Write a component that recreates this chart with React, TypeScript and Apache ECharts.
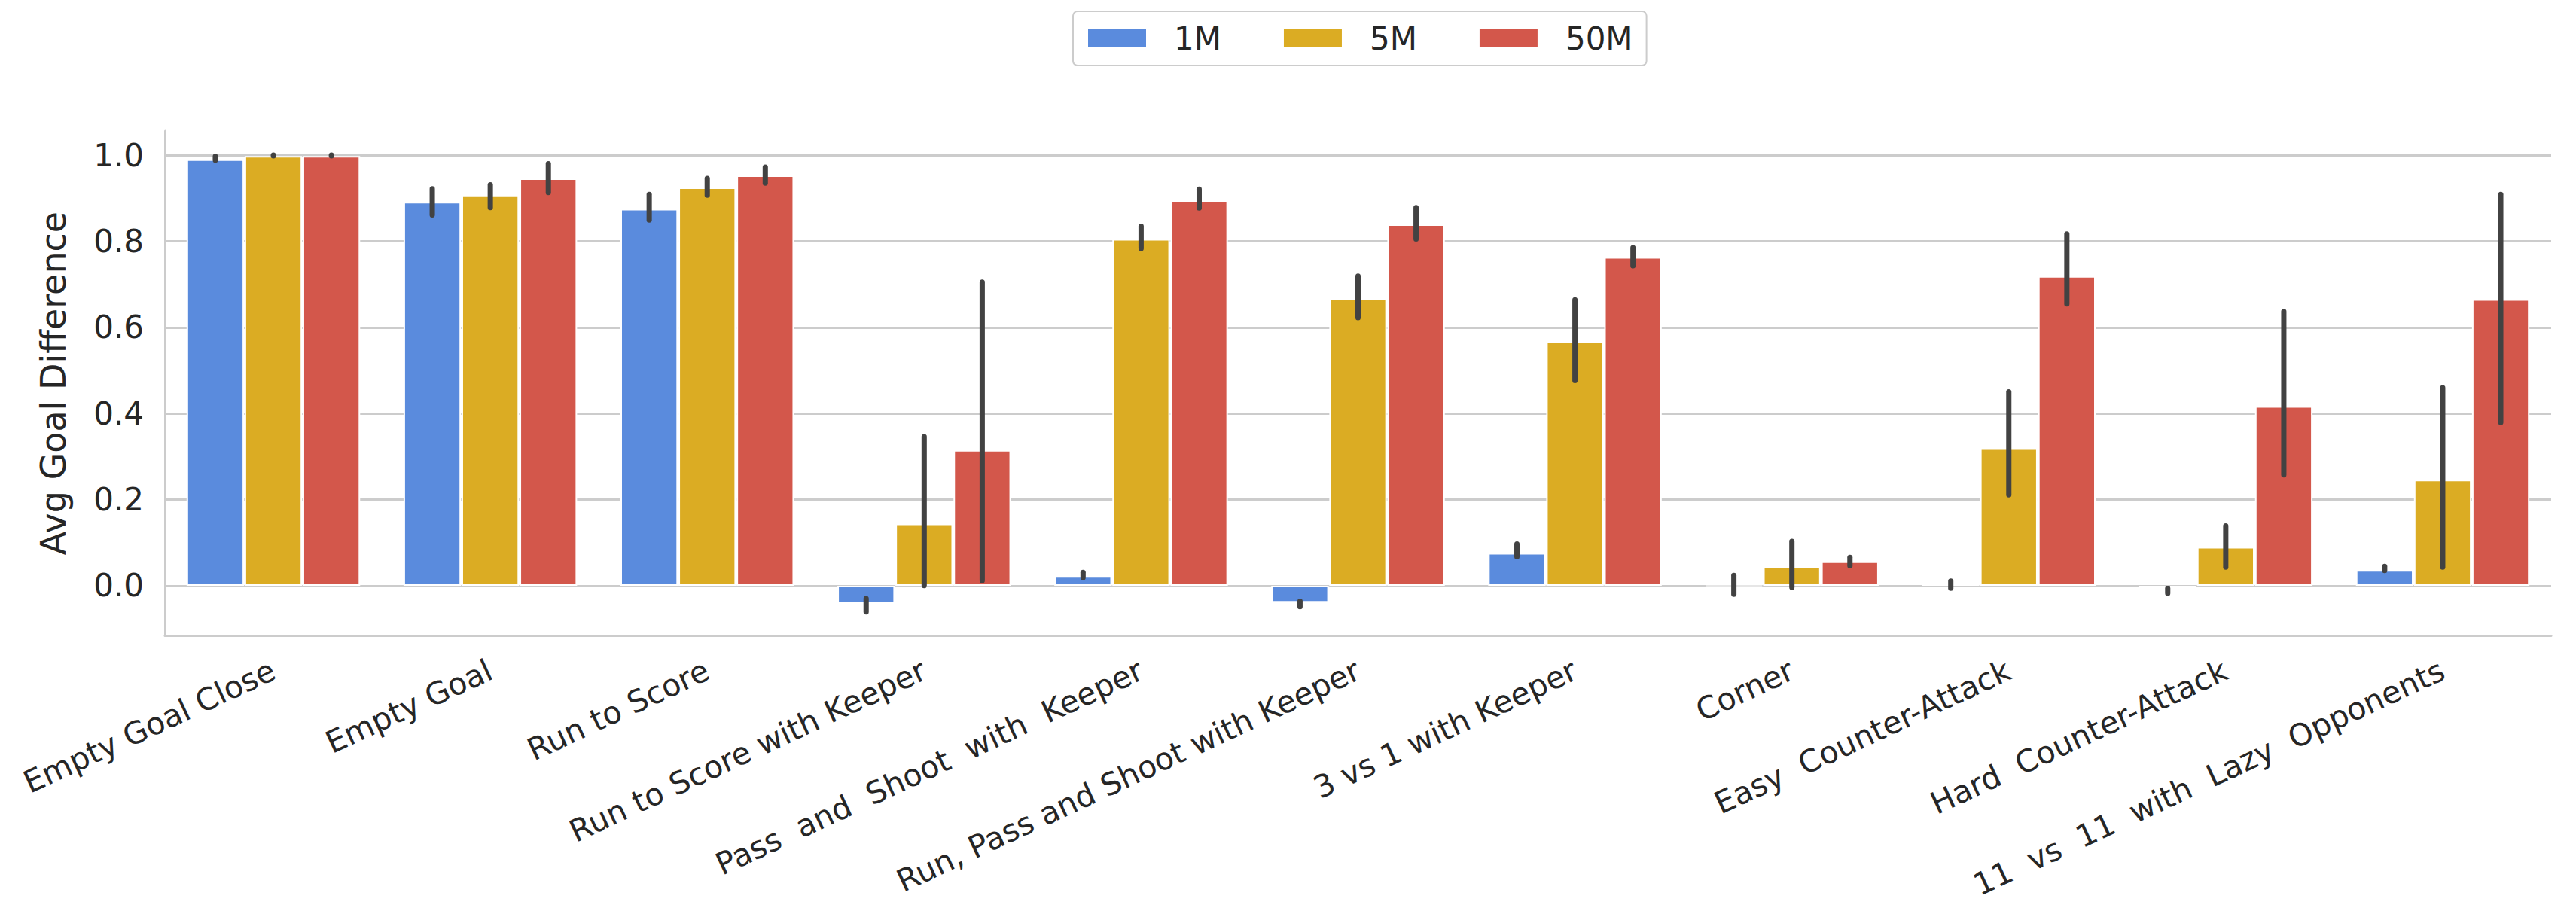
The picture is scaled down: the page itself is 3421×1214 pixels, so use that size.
import React, { useEffect, useRef } from "react";
import * as echarts from "echarts";

// Task categories along the x axis
const categories = [
  "Empty Goal Close",
  "Empty Goal",
  "Run to Score",
  "Run to Score with Keeper",
  "Pass  and  Shoot  with  Keeper",
  "Run, Pass and Shoot with Keeper",
  "3 vs 1 with Keeper",
  "Corner",
  "Easy  Counter-Attack",
  "Hard  Counter-Attack",
  "11  vs  11  with  Lazy  Opponents",
];

const seriesNames = ["1M", "5M", "50M"];
const seriesColors = ["#5a8bdd", "#dbac23", "#d3574b"];

// Mean goal difference per training budget
const mean1M = [0.99, 0.891, 0.875, -0.042, 0.022, -0.039, 0.076, -0.002, 0.001, -0.007, 0.036];
const mean5M = [0.998, 0.908, 0.925, 0.144, 0.805, 0.667, 0.568, 0.044, 0.319, 0.09, 0.246];
const mean50M = [0.998, 0.946, 0.953, 0.315, 0.895, 0.839, 0.763, 0.056, 0.719, 0.417, 0.665];

// Confidence interval bounds
const low1M = [0.982, 0.855, 0.843, -0.067, 0.013, -0.055, 0.061, -0.026, -0.012, -0.024, 0.029];
const high1M = [1.003, 0.928, 0.915, -0.024, 0.037, -0.03, 0.103, 0.03, 0.017, 0.0, 0.051];
const low5M = [0.998, 0.872, 0.901, -0.006, 0.777, 0.616, 0.47, -0.01, 0.205, 0.037, 0.037];
const high5M = [1.0, 0.937, 0.952, 0.352, 0.841, 0.725, 0.67, 0.109, 0.456, 0.145, 0.466];
const low50M = [0.998, 0.907, 0.929, 0.006, 0.871, 0.799, 0.737, 0.04, 0.648, 0.251, 0.373];
const high50M = [1.0, 0.986, 0.978, 0.711, 0.927, 0.884, 0.791, 0.072, 0.823, 0.643, 0.915];

const yMin = -0.1156;
const yMax = 1.056;

const FONT = "DejaVu Sans";
const TEXT = "#262626";
const AXIS_GRAY = "#cccccc";
const ERR_COLOR = "#424242";
const BAR_GAP = 0.01;

export default function App() {
  const ref = useRef<HTMLDivElement>(null);

  useEffect(() => {
    document.body.style.margin = "0";
    if (!ref.current) return;
    const chart = echarts.init(ref.current, undefined, { renderer: "svg" });

    const means = [mean1M, mean5M, mean50M];
    const lows = [low1M, low5M, low50M];
    const highs = [high1M, high5M, high50M];

    const errData: number[][] = [];
    for (let s = 0; s < 3; s++) {
      for (let i = 0; i < categories.length; i++) {
        errData.push([i, lows[s][i], highs[s][i], s]);
      }
    }

    const barSeries = seriesNames.map((name, s) => ({
      name,
      type: "bar",
      data: means[s],
      barGap: `${BAR_GAP * 100}%`,
      barCategoryGap: "20%",
      itemStyle: { color: seriesColors[s], borderColor: "#ffffff", borderWidth: 2 },
      z: 2,
    }));

    // Confidence interval whiskers, centred on each bar of the group
    const errSeries = {
      name: "ci",
      type: "custom",
      data: errData,
      encode: { x: 0, y: [1, 2] },
      z: 5,
      renderItem: (params: any, api: any) => {
        const cat = api.value(0);
        const lo = api.value(1);
        const hi = api.value(2);
        const s = api.value(3);
        const band = api.size([1, 0])[0];
        const w = (band * 0.8) / (3 + 2 * BAR_GAP);
        const offset = (s - 1) * w * (1 + BAR_GAP);
        const pHi = api.coord([cat, hi]);
        const pLo = api.coord([cat, lo]);
        const x = pHi[0] + offset;
        const lw = 7;
        let y1 = pHi[1] + lw / 2;
        let y2 = pLo[1] - lw / 2;
        if (y2 - y1 < 1) {
          const m = (pHi[1] + pLo[1]) / 2;
          y1 = m - 0.5;
          y2 = m + 0.5;
        }
        return {
          type: "line",
          shape: { x1: x, y1, x2: x, y2 },
          style: { stroke: ERR_COLOR, lineWidth: lw, lineCap: "round" },
        };
      },
    };

    chart.setOption({
      animation: false,
      backgroundColor: "#ffffff",
      textStyle: { fontFamily: FONT, color: TEXT },
      legend: {
        data: seriesNames,
        left: 1425,
        top: 15,
        orient: "horizontal",
        icon: "rect",
        itemWidth: 79,
        itemHeight: 26,
        itemGap: 81,
        padding: [15, 18, 15, 18],
        borderColor: AXIS_GRAY,
        borderWidth: 2,
        borderRadius: 6,
        textStyle: { fontSize: 42, color: TEXT, fontFamily: FONT, padding: [0, 0, 0, 31] },
      },
      grid: { left: 219, right: 33, top: 174, bottom: 370, containLabel: false },
      xAxis: {
        type: "category",
        data: categories,
        axisLine: { show: true, onZero: false, lineStyle: { color: AXIS_GRAY, width: 3 } },
        axisTick: { show: false },
        splitLine: { show: false },
        axisLabel: {
          interval: 0,
          rotate: 25,
          margin: 44,
          fontSize: 41,
          color: TEXT,
          fontFamily: FONT,
        },
      },
      yAxis: {
        type: "value",
        min: yMin,
        max: yMax,
        splitNumber: 6,
        name: "Avg Goal Difference",
        nameLocation: "middle",
        nameGap: 125,
        nameTextStyle: { fontSize: 46, color: TEXT, fontFamily: FONT },
        axisLine: { show: true, lineStyle: { color: AXIS_GRAY, width: 3 } },
        axisTick: { show: false },
        axisLabel: {
          margin: 28,
          fontSize: 42,
          color: TEXT,
          fontFamily: FONT,
          showMinLabel: false,
          showMaxLabel: false,
          formatter: (v: number) => v.toFixed(1),
        },
        splitLine: {
          show: true,
          showMinLine: false,
          showMaxLine: false,
          lineStyle: { color: AXIS_GRAY, width: 3 },
        },
      },
      series: [...barSeries, errSeries],
    });

    return () => chart.dispose();
  }, []);

  return <div ref={ref} style={{ width: "3421px", height: "1214px" }} />;
}
